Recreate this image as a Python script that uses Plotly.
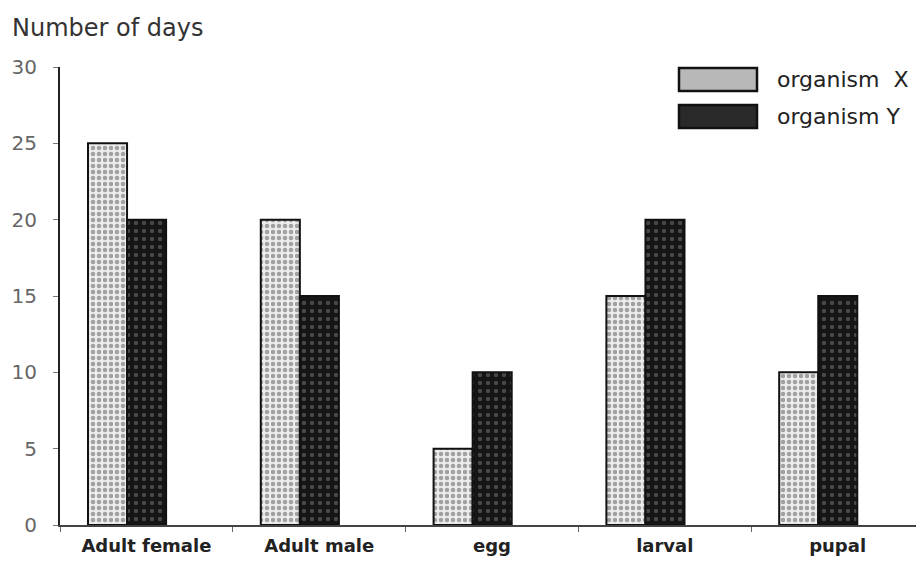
import plotly.graph_objects as go

categories = ["Adult female", "Adult male", "egg", "larval", "pupal"]
organism_x = [25, 20, 5, 15, 10]
organism_y = [20, 15, 10, 20, 15]
y_ticks = [0, 5, 10, 15, 20, 25, 30]
series_names = ["organism  X", "organism Y"]

FONT = "DejaVu Sans"
BODY = 8  # default page margin of the html body
W, H = 924 - BODY, 564 - BODY
ML, MR, MT, MB = 52, 0, 59, 39
PW, PH = W - ML - MR, H - MT - MB


def px_x(p):
    return (p - BODY - ML) / PW


def px_y(p):
    return (BODY + MT + PH - p) / PH


fig = go.Figure()
fig.add_trace(go.Bar(
    x=categories, y=organism_x, name=series_names[0],
    offset=-0.338, width=0.226,
    marker=dict(color="#ececec", line=dict(color="#111", width=2),
                pattern=dict(shape=".", fgcolor="#555", bgcolor="#ececec", size=6, solidity=0.45)),
    showlegend=False,
))
fig.add_trace(go.Bar(
    x=categories, y=organism_y, name=series_names[1],
    offset=-0.112, width=0.226,
    marker=dict(color="#151515", line=dict(color="#111", width=2),
                pattern=dict(shape=".", fgcolor="#7a7a7a", bgcolor="#151515", size=8, solidity=0.25)),
    showlegend=False,
))

# legend (custom wide swatches)
legend_rows = [(68, 91, "#b8b8b8", series_names[0]), (105, 128, "#2a2a2a", series_names[1])]
for y0, y1, col, label in legend_rows:
    fig.add_shape(type="rect", xref="paper", yref="paper",
                  x0=px_x(679), x1=px_x(757), y0=px_y(y1), y1=px_y(y0),
                  fillcolor=col, line=dict(color="#111", width=2.5))
    fig.add_annotation(xref="paper", yref="paper", x=px_x(775), y=px_y((y0 + y1) / 2),
                       xanchor="left", yanchor="middle", showarrow=False, text=label,
                       font=dict(family=FONT, size=22, color="#222"))

fig.add_annotation(xref="paper", yref="paper", x=px_x(10), y=px_y(28),
                   xanchor="left", yanchor="middle", showarrow=False,
                   text="Number of days", font=dict(family=FONT, size=24, color="#333"))

fig.update_layout(
    width=W, height=H,
    margin=dict(l=ML, r=MR, t=MT, b=MB, pad=0),
    paper_bgcolor="white", plot_bgcolor="white",
    barmode="overlay",
    font=dict(family=FONT, color="#333"),
    xaxis=dict(type="category", range=[-0.5, 4.5], showline=True, linecolor="#444", linewidth=1.5,
               ticks="outside", tickson="boundaries", ticklen=5, tickcolor="#666",
               showgrid=False, zeroline=False, ticklabelstandoff=4,
               tickfont=dict(family=FONT, size=18, color="#222", weight="bold")),
    yaxis=dict(range=[0, 30], tickvals=y_ticks, showline=True, linecolor="#222", linewidth=2,
               ticks="outside", ticklen=5, tickcolor="#777", showgrid=False, zeroline=False,
               ticklabelstandoff=12,
               tickfont=dict(family=FONT, size=20, color="#666")),
)

fig.write_html("out.html")
